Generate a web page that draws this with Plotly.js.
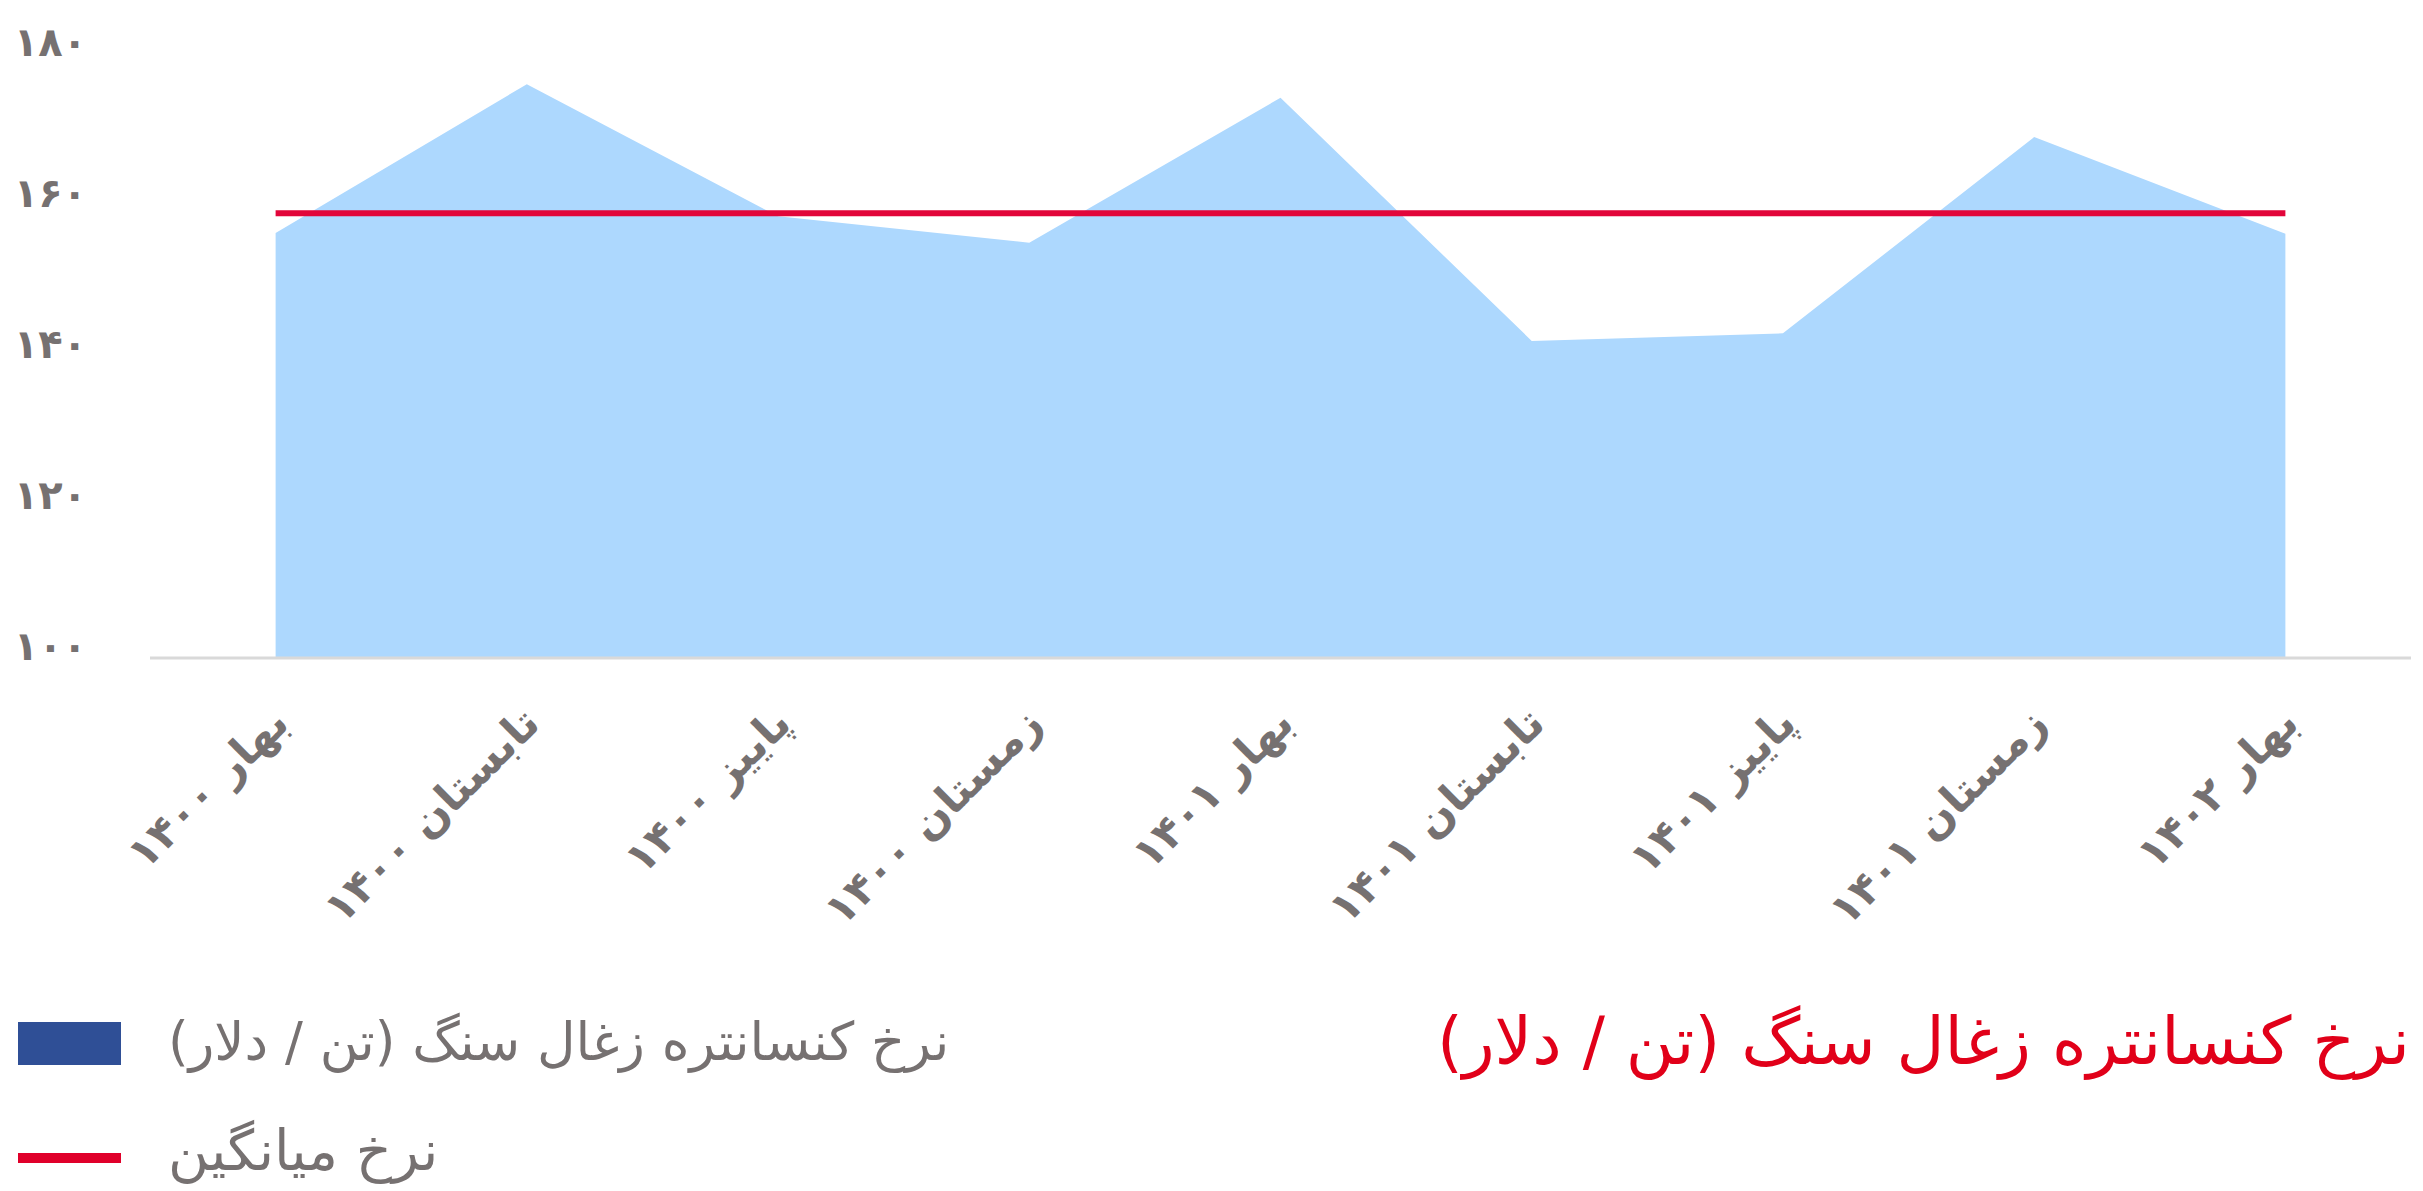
<!DOCTYPE html>
<html>
<head>
<meta charset="utf-8">
<script src="https://cdn.plot.ly/plotly-3.0.1.min.js"></script>
<style>
  html, body { margin: 0; padding: 0; background: #ffffff; }
  #chart { width: 2423px; height: 1191px; }
</style>
</head>
<body>
<div id="chart"></div>
<script>
// ---- data ----
const categories = [
  "بهار ۱۴۰۰", "تابستان ۱۴۰۰", "پاییز ۱۴۰۰", "زمستان ۱۴۰۰",
  "بهار ۱۴۰۱", "تابستان ۱۴۰۱", "پاییز ۱۴۰۱", "زمستان ۱۴۰۱", "بهار ۱۴۰۲"
];
const coalPrice = [156.3, 176.0, 158.5, 155.0, 174.2, 142.0, 143.0, 169.0, 156.2];
const averagePrice = [158.9, 158.9, 158.9, 158.9, 158.9, 158.9, 158.9, 158.9, 158.9];
const yTickValues = [100, 120, 140, 160, 180];
const yTickLabels = ["۱۰۰", "۱۲۰", "۱۴۰", "۱۶۰", "۱۸۰"];
const seriesNames = ["نرخ کنسانتره زغال سنگ (تن / دلار)\u200F", "نرخ میانگین"];
const chartTitle = "نرخ کنسانتره زغال سنگ (تن / دلار)\u200F";

// ---- layout helpers (pixel -> paper) ----
const W = 2423, H = 1191;
const M = { l: 150, r: 12, t: 54, b: 533 };
const PW = W - M.l - M.r, PH = H - M.t - M.b;
const px = x => (x - M.l) / PW;
const py = y => (H - M.b - y) / PH;

const gray = "#767171";
const fontFam = "DejaVu Sans, Noto Sans, sans-serif";

const traces = [
  {
    x: categories, y: coalPrice, type: "scatter", mode: "none",
    fill: "tozeroy", fillcolor: "#ADD8FE", name: seriesNames[0],
    hoverinfo: "skip", showlegend: false
  },
  {
    x: categories, y: averagePrice, type: "scatter", mode: "lines",
    line: { color: "#E2063A", width: 6 }, name: seriesNames[1],
    hoverinfo: "skip", showlegend: false
  }
];

const layout = {
  width: W, height: H,
  margin: M,
  paper_bgcolor: "#ffffff", plot_bgcolor: "#ffffff",
  showlegend: false,
  xaxis: {
    type: "category", range: [-0.5, 8.5],
    showline: false,
    showgrid: false, zeroline: false, ticks: "",
    tickangle: -45, ticklabelstandoff: 30,
    tickfont: { family: fontFam, size: 43, color: gray, weight: "bold" }
  },
  yaxis: {
    range: [100, 180], tickvals: yTickValues, ticktext: yTickLabels,
    showline: false, showgrid: false, zeroline: false, ticks: "",
    ticklabelstandoff: 62, ticklabelshift: -12,
    tickfont: { family: fontFam, size: 40, color: gray, weight: "bold" }
  },
  shapes: [
    { type: "line", xref: "paper", yref: "paper", layer: "above",
      x0: 0, x1: 1, y0: 0, y1: 0,
      line: { color: "#D9D9D9", width: 3 } },
    { type: "rect", xref: "paper", yref: "paper",
      x0: px(18), x1: px(121), y0: py(1022), y1: py(1065),
      fillcolor: "#2F4F96", line: { width: 0 } },
    { type: "line", xref: "paper", yref: "paper",
      x0: px(18), x1: px(121), y0: py(1158), y1: py(1158),
      line: { color: "#E0002A", width: 10 } }
  ],
  annotations: [
    { text: seriesNames[0], xref: "paper", yref: "paper",
      x: px(166), y: py(1042), xanchor: "left", yanchor: "middle",
      showarrow: false, font: { family: fontFam, size: 53, color: gray } },
    { text: seriesNames[1], xref: "paper", yref: "paper",
      x: px(166), y: py(1151), xanchor: "left", yanchor: "middle",
      showarrow: false, font: { family: fontFam, size: 56, color: gray } },
    { text: chartTitle, xref: "paper", yref: "paper",
      x: px(2412), y: py(1041), xanchor: "right", yanchor: "middle",
      showarrow: false, font: { family: fontFam, size: 66, color: "#E10019" } }
  ]
};

Plotly.newPlot("chart", traces, layout, { staticPlot: true, displayModeBar: false });
</script>
</body>
</html>
